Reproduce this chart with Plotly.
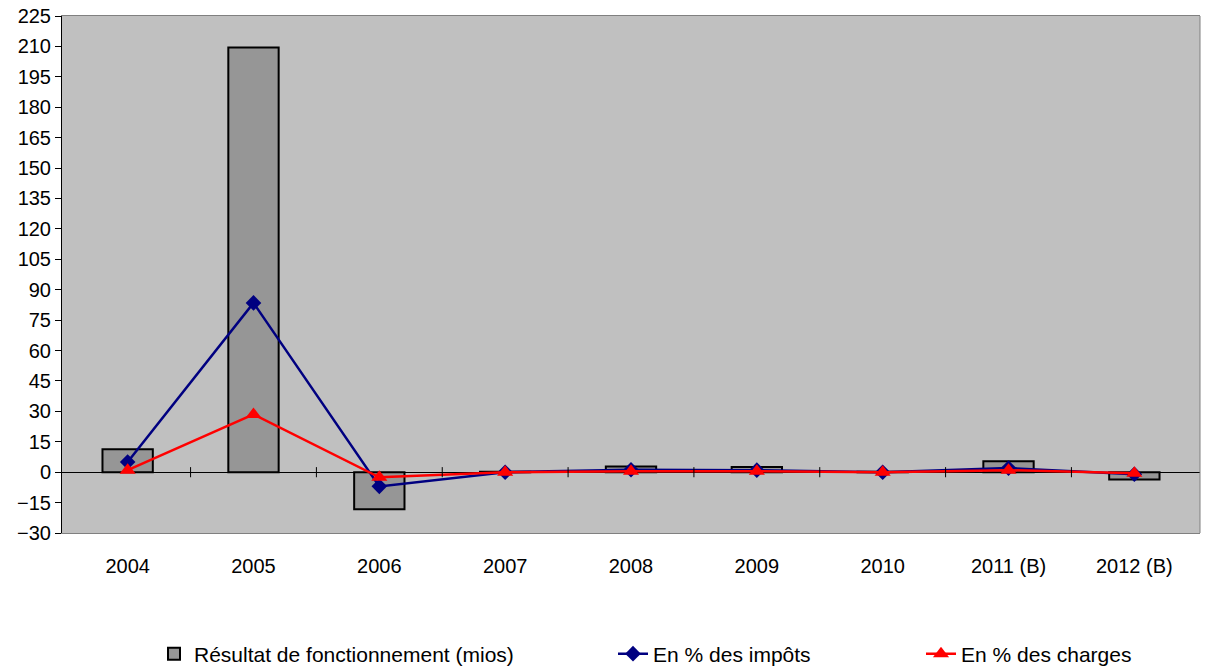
import plotly.graph_objects as go

years = ["2004", "2005", "2006", "2007", "2008", "2009", "2010", "2011 (B)", "2012 (B)"]
resultat = [11.3, 209.5, -18.3, 0.2, 2.8, 2.5, 0.2, 5.4, -3.6]
pct_impots = [5.0, 83.5, -7.0, 0.0, 1.2, 1.0, 0.0, 2.0, -1.0]
pct_charges = [1.0, 28.5, -2.5, 0.0, 0.5, 0.5, 0.0, 1.0, -0.5]
yticks = list(range(-30, 226, 15))

font = "Liberation Sans, Arial, sans-serif"

fig = go.Figure()
fig.add_trace(go.Bar(
    x=years, y=resultat, name="Résultat de fonctionnement (mios)",
    marker=dict(color="#969696", line=dict(color="black", width=2)),
    width=0.4, legend="legend",
))
fig.add_trace(go.Scatter(
    x=years, y=pct_impots, name="En % des impôts", mode="lines+markers",
    line=dict(color="#000080", width=2.5),
    marker=dict(symbol="diamond", size=12, color="#000080"),
    legend="legend2",
))
fig.add_trace(go.Scatter(
    x=years, y=pct_charges, name="En % des charges", mode="lines+markers",
    line=dict(color="#FF0000", width=2.5),
    marker=dict(symbol="triangle-up", size=14, color="#FF0000"),
    legend="legend3",
))

# tick marks on the zero axis between categories
for i in range(len(years) - 1):
    fig.add_shape(type="line", xref="x", yref="y", x0=i + 0.5, x1=i + 0.5,
                  y0=-2.5, y1=2.5, line=dict(color="black", width=1), layer="above")
# grey right border of plot area
fig.add_shape(type="line", xref="paper", yref="paper", x0=1, x1=1, y0=0, y1=1,
              line=dict(color="#808080", width=1))

FW, FH = 1207, 669
L, W = 62, 1138
T, H = 16, 517
legend_common = dict(orientation="h", yref="container", yanchor="middle",
                     y=(FH - 654) / FH, xref="container", xanchor="left",
                     font=dict(family=font, size=21, color="black"),
                     bgcolor="rgba(0,0,0,0)")
fig.update_layout(
    width=FW, height=FH,
    margin=dict(l=L, r=FW - L - W, t=T, b=FH - T - H),
    paper_bgcolor="white", plot_bgcolor="#C0C0C0",
    font=dict(family=font, size=20, color="black"),
    showlegend=True,
    legend=dict(x=154 / FW, **legend_common),
    legend2=dict(x=613 / FW, **legend_common),
    legend3=dict(x=921 / FW, **legend_common),
)
fig.update_xaxes(
    type="category", showgrid=False, showline=True, linecolor="#808080", linewidth=1,
    mirror=True, ticks="", tickfont=dict(size=20), ticklabelstandoff=15,
    automargin=False,
)
fig.update_yaxes(
    range=[-30, 225], tickvals=yticks, showgrid=False, showline=True,
    linecolor="black", linewidth=1, mirror=False, ticks="outside", ticklen=6,
    tickcolor="black", zeroline=True, zerolinecolor="black", zerolinewidth=1,
    tickfont=dict(size=20), automargin=False,
)
post = (
    "var d=document.getElementById('{plot_id}');"
    "d.style.position='fixed';d.style.top='0';d.style.left='0';"
    "document.body.style.margin='0';document.body.style.overflow='hidden';"
    "document.documentElement.style.overflow='hidden';"
)
fig.write_html("out.html", post_script=post, config={"displayModeBar": False})
